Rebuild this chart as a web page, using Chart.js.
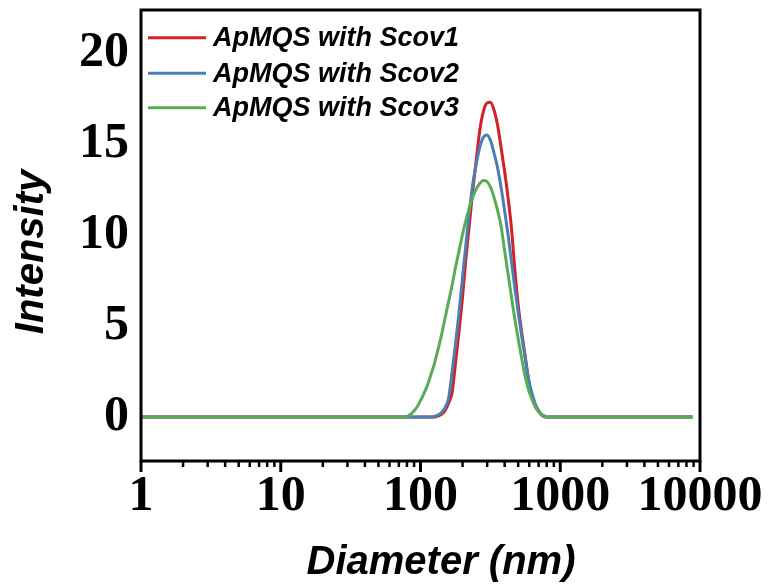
<!DOCTYPE html>
<html>
<head>
<meta charset="utf-8">
<script src="https://cdn.jsdelivr.net/npm/chart.js@4.4.1/dist/chart.umd.min.js"></script>
<style>
  html, body { margin: 0; padding: 0; background: #fff; }
  canvas { display: block; }
</style>
</head>
<body>
<canvas id="dls" width="771" height="588"></canvas>
<script>
// hydrodynamic diameter (nm)
const diameters = [1,
  70.8, 75.0, 79.4, 84.1, 89.1, 94.4, 100, 105.9, 112.2, 118.9,
  125.9, 133.4, 141.3, 149.6, 158.5, 167.9, 177.8, 188.4, 199.5, 211.3,
  223.9, 237.1, 251.2, 266.1, 281.8, 298.5, 316.2, 335.0, 354.8, 375.8,
  398.1, 421.7, 446.7, 473.2, 501.2, 530.9, 562.3, 595.7, 631.0, 668.3,
  707.9, 749.9, 794.3, 841.4, 891.3,
  8850];

// intensity distributions (%)
const scov1 = [0,
  0, 0, 0, 0, 0, 0, 0, 0, 0, 0,
  0, 0.05, 0.15, 0.35, 0.75, 1.3, 2.9, 4.65, 6.5, 8.7,
  10.6, 12.5, 14.2, 15.8, 16.8, 17.25, 17.3, 16.9, 16.1, 14.9,
  13.6, 12.15, 10.45, 8.1, 6.1, 4.6, 3.3, 1.95, 1.0, 0.55,
  0.25, 0.06, 0, 0, 0,
  0];
const scov2 = [0,
  0, 0, 0, 0, 0, 0, 0, 0, 0, 0,
  0.03, 0.1, 0.25, 0.5, 1.0, 2.4, 4.0, 5.7, 7.6, 9.5,
  11.3, 12.85, 13.95, 14.85, 15.38, 15.5, 15.22, 14.55, 13.75, 12.7,
  11.45, 10.1, 8.6, 7.1, 5.7, 4.4, 3.2, 2.0, 1.25, 0.65,
  0.3, 0.08, 0, 0, 0,
  0];
const scov3 = [0,
  0, 0, 0.02, 0.12, 0.3, 0.55, 0.9, 1.3, 1.75, 2.35,
  2.95, 3.7, 4.5, 5.4, 6.3, 7.2, 8.2, 9.1, 10.0, 10.8,
  11.5, 12.1, 12.55, 12.85, 13.0, 12.95, 12.65, 12.1, 11.4, 10.55,
  9.25, 7.95, 6.64, 5.37, 4.25, 3.18, 2.2, 1.45, 0.94, 0.5,
  0.25, 0.1, 0.02, 0, 0,
  0];

const seriesNames = ['ApMQS with Scov1', 'ApMQS with Scov2', 'ApMQS with Scov3'];
const seriesColors = ['#d42027', '#4a7fb5', '#5aab55'];

const xTicks = [1, 10, 100, 1000, 10000];
const yTicks = [0, 5, 10, 15, 20];

const tickFont = { family: 'Liberation Serif', size: 50, weight: 'bold' };
const sansBoldItalic = size => `italic bold ${size}px "Liberation Sans", Arial, sans-serif`;

const toPoints = vals => diameters.map((d, i) => ({ x: d, y: vals[i] }));

// frame, log tick marks, legend and axis titles
const decor = {
  id: 'decor',
  afterDraw(chart) {
    const { ctx, chartArea: a, scales: { x } } = chart;
    ctx.save();
    ctx.strokeStyle = '#000';
    ctx.lineWidth = 3;
    ctx.strokeRect(a.left, a.top, a.right - a.left, a.bottom - a.top);

    // major and minor ticks below the x axis
    ctx.lineWidth = 3;
    xTicks.forEach(v => {
      const px = x.getPixelForValue(v);
      ctx.beginPath();
      ctx.moveTo(px, a.bottom);
      ctx.lineTo(px, a.bottom + 11);
      ctx.stroke();
    });
    ctx.lineWidth = 2.5;
    xTicks.slice(0, -1).forEach(dec => {
      for (let k = 2; k <= 9; k++) {
        const px = x.getPixelForValue(dec * k);
        ctx.beginPath();
        ctx.moveTo(px, a.bottom);
        ctx.lineTo(px, a.bottom + 6);
        ctx.stroke();
      }
    });

    // legend in the upper left corner
    const rows = [37.7, 73.3, 107.7];
    ctx.font = sansBoldItalic(27);
    ctx.textBaseline = 'middle';
    ctx.textAlign = 'left';
    chart.data.datasets.forEach((ds, i) => {
      ctx.strokeStyle = ds.borderColor;
      ctx.lineWidth = 3;
      ctx.beginPath();
      ctx.moveTo(148, rows[i]);
      ctx.lineTo(206, rows[i]);
      ctx.stroke();
      ctx.fillStyle = '#000';
      ctx.fillText(ds.label, 213, rows[i] + 1);
    });

    // axis titles
    ctx.font = sansBoldItalic(40);
    ctx.textAlign = 'center';
    ctx.fillText('Diameter (nm)', 441, 563);
    ctx.translate(32, 252);
    ctx.rotate(-Math.PI / 2);
    ctx.fillText('Intensity', 0, 0);
    ctx.restore();
  }
};

new Chart(document.getElementById('dls'), {
  type: 'line',
  data: {
    datasets: [
      { label: seriesNames[0], data: toPoints(scov1), borderColor: seriesColors[0], order: 2 },
      { label: seriesNames[1], data: toPoints(scov2), borderColor: seriesColors[1], order: 1 },
      { label: seriesNames[2], data: toPoints(scov3), borderColor: seriesColors[2], order: 0 }
    ]
  },
  options: {
    responsive: false,
    animation: false,
    devicePixelRatio: 1,
    layout: { padding: { left: 0, top: 10, right: 71, bottom: 0 } },
    elements: {
      point: { radius: 0 },
      line: { borderWidth: 3, cubicInterpolationMode: 'monotone', fill: false }
    },
    plugins: {
      legend: { display: false },
      tooltip: { enabled: false }
    },
    scales: {
      x: {
        type: 'logarithmic',
        min: 1,
        max: 10000,
        afterBuildTicks: scale => { scale.ticks = xTicks.map(v => ({ value: v })); },
        afterFit: scale => {
          scale.height = 127;
          scale.paddingLeft = 0;
          scale.paddingRight = 0;
        },
        grid: { display: false, drawTicks: false },
        border: { display: false },
        ticks: {
          autoSkip: false,
          maxRotation: 0,
          padding: 6,
          color: '#000',
          font: tickFont,
          callback: v => String(v)
        }
      },
      y: {
        min: -2.42,
        max: 22.37,
        afterBuildTicks: scale => { scale.ticks = yTicks.map(v => ({ value: v })); },
        afterFit: scale => {
          scale.width = 141;
          scale.paddingTop = 0;
          scale.paddingBottom = 0;
        },
        grid: { display: false, drawTicks: false },
        border: { display: false },
        ticks: {
          padding: 12,
          color: '#000',
          font: tickFont
        }
      }
    }
  },
  plugins: [decor]
});
</script>
</body>
</html>
